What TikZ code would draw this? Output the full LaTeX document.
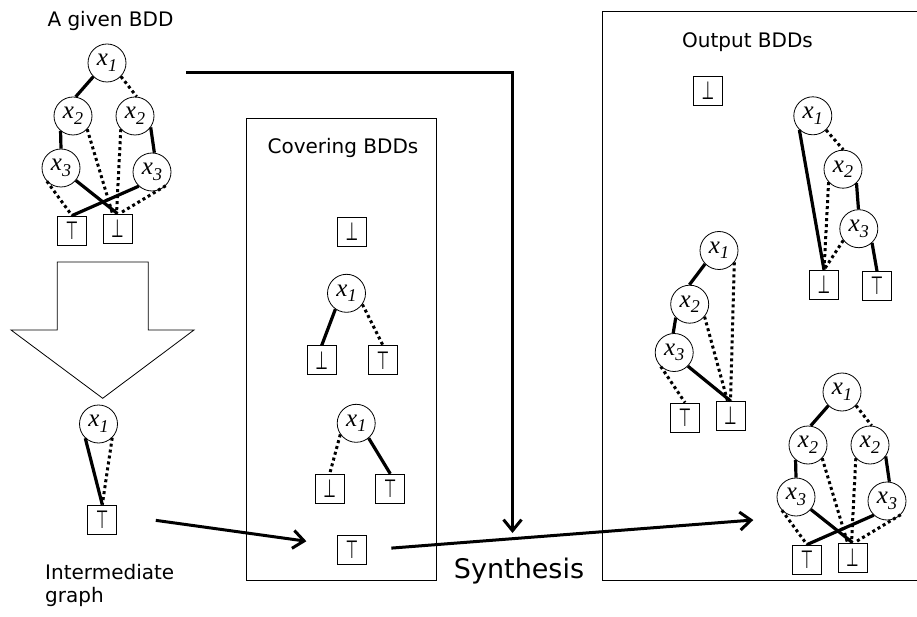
\documentclass[tikz,border=0pt]{standalone}
\usepackage{fontspec}
\usepackage{graphicx}
\usetikzlibrary{arrows.meta,calc}
\newfontfamily\dv{DejaVu Sans}
\newfontfamily\ls{Liberation Serif}
\newcommand{\varlab}[1]{{\ls\itshape\fontsize{25}{25}\selectfont x\kern0.2pt\raisebox{-5.5pt}{\fontsize{18}{18}\selectfont #1}}}
\newcommand{\topsym}{{\dv\fontsize{25}{25}\selectfont\scalebox{0.58}[1]{⊤}}}
\newcommand{\botsym}{{\dv\fontsize{25}{25}\selectfont\scalebox{0.58}[1]{⊥}}}
\tikzset{
  var/.style={circle,draw,line width=0.8pt,minimum size=38pt,inner sep=0pt},
  term/.style={rectangle,draw,line width=0.8pt,minimum size=29pt,inner sep=0pt},
  hi/.style={line width=3.2pt},
  lo/.style={line width=3pt,dash pattern=on 3pt off 3pt},
  lbl/.style={font=\dv\fontsize{20}{23}\selectfont,inner sep=0pt},
  frame/.style={line width=0.8pt},
  flow/.style={line width=3pt,-{Straight Barb[length=11pt,width=18pt]}},
}
\newcommand{\fullbdd}[1]{%
  \node[var] (#1x1) at (107,63) {\varlab{1}};
  \node[var] (#1x2L) at (73,116) {\varlab{2}};
  \node[var] (#1x2R) at (135,116) {\varlab{2}};
  \node[var] (#1x3L) at (61,168) {\varlab{3}};
  \node[var] (#1x3R) at (152,172) {\varlab{3}};
  \node[term] (#1T) at (72,230.5) {\topsym};
  \node[term] (#1B) at (117.5,228.5) {\botsym};
  \draw[hi] (#1x1.225) -- (#1x2L.82);
  \draw[lo] (#1x1.-44) -- (#1x2R.85);
  \draw[hi] (#1x2L.230) -- (#1x3L.90);
  \draw[lo] (#1x2L.-43) -- ($(#1B.north)+(-5,0)$);
  \draw[lo] (#1x2R.223) -- ($(#1B.north)+(-1,0)$);
  \draw[hi] (#1x2R.-36) -- (#1x3R.83);
  \draw[lo] (#1x3L.223) -- (#1T.north);
  \draw[hi] (#1x3L.-40) -- (#1B.north);
  \draw[hi] (#1x3R.227) -- (#1T.north);
  \draw[lo] (#1x3R.-45) -- ($(#1B.north)+(2,0)$);
}
\begin{document}
\begin{tikzpicture}[x=1pt,y=-1pt]
\useasboundingbox (0,0) rectangle (917,617);
\fill[white] (0,0) rectangle (917,617);

% given BDD
\node[lbl,anchor=base] (tg) at (110.5,26.5) {A given BDD};
\begin{scope}
  \fullbdd{g}
\end{scope}

% hollow arrow
\draw[line width=0.8pt] (57.3,262) -- (148.3,262) -- (148.3,330) -- (194,330)
  -- (102.7,398.3) -- (11,330) -- (57.3,330) -- cycle;

% intermediate graph
\node[var] (i1) at (98.5,424) {\varlab{1}};
\node[term] (iT) at (102.3,519.5) {\topsym};
\draw[hi] (i1.227) -- (iT.north);
\draw[lo] (i1.-45) -- (iT.north);
\node[lbl,anchor=north west,align=left] (ti) at (45,564) {Intermediate\\graph};

% covering BDDs
\draw[frame] (246.5,118) rectangle (436,580);
\node[lbl,anchor=base] (tc) at (343,154) {Covering BDDs};
\node[term] (cB0) at (352,231.7) {\botsym};
\node[var] (c1) at (346.5,293.3) {\varlab{1}};
\node[term] (cB1) at (321.7,360.3) {\botsym};
\node[term] (cT1) at (383,360.3) {\topsym};
\draw[hi] (c1.235) -- (cB1.north);
\draw[lo] (c1.-35) -- (cT1.north);
\node[var] (c2) at (356.2,423.3) {\varlab{1}};
\node[term] (cB2) at (329.7,488.7) {\botsym};
\node[term] (cT2) at (390.3,488.7) {\topsym};
\draw[lo] (c2.215) -- (cB2.north);
\draw[hi] (c2.-50) -- (cT2.north);
\node[term] (cT3) at (352,550) {\topsym};

% output BDDs
\draw[frame] (917,11) -- (602.3,11) -- (602.3,580) -- (917,580);
\node[lbl,anchor=base] (to) at (747.5,48) {Output BDDs};
\node[term] (oB0) at (708,91) {\botsym};
% right tree
\node[var] (r1) at (812.8,115.8) {\varlab{1}};
\node[var] (r2) at (843,169.2) {\varlab{2}};
\node[var] (r3) at (858.8,228.7) {\varlab{3}};
\node[term] (rB) at (824,284.7) {\botsym};
\node[term] (rT) at (877,286) {\topsym};
\draw[hi] (r1.226) -- (rB.north);
\draw[lo] (r1.-47) -- (r2.89);
\draw[lo] (r2.222) -- (rB.north);
\draw[hi] (r2.-46) -- (r3.91);
\draw[lo] (r3.217) -- (rB.north);
\draw[hi] (r3.-47) -- (rT.north);
% left tree
\node[var] (l1) at (719,250.5) {\varlab{1}};
\node[var] (l2) at (689.7,304.2) {\varlab{2}};
\node[var] (l3) at (674.2,352.5) {\varlab{3}};
\node[term] (lT) at (685,417.5) {\topsym};
\node[term] (lB) at (730.5,415.8) {\botsym};
\draw[hi] (l1.224) -- (l2.91);
\draw[lo] (l1.-38) -- (lB.north);
\draw[hi] (l2.224) -- (l3.93);
\draw[lo] (l2.-40) -- ($(lB.north)+(-3,0)$);
\draw[lo] (l3.226) -- (lT.north);
\draw[hi] (l3.-45) -- (lB.north);
% bottom tree
\begin{scope}[shift={(735,329)}]
  \fullbdd{b}
\end{scope}

% flows
\coordinate (s1) at (186,73);
\coordinate (e1) at (512.5,533);
\draw[flow] (s1) -| (e1);
\draw[flow,shorten <=39pt,shorten >=31pt] ($(iT.east)+(0,-4.5)$) -- ($(cT3.west)+(0,-4.5)$);
\coordinate (e3) at (753.3,520);
\draw[flow,shorten <=24.5pt] (cT3.east) -- (e3);
\node[font=\dv\fontsize{27}{27}\selectfont,inner sep=0pt,anchor=base] (syn) at (519,578.3) {Synthesis};
\end{tikzpicture}
\end{document}
